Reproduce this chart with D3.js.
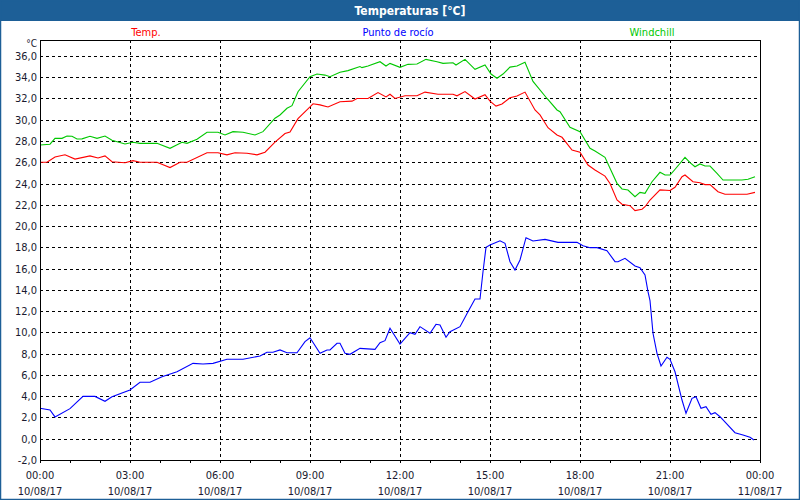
<!DOCTYPE html>
<html><head><meta charset="utf-8">
<script src="https://cdn.jsdelivr.net/npm/d3@7"></script>
<style>
html,body{margin:0;padding:0;background:#fff;}
svg text{font-family:"DejaVu Sans",Tahoma,sans-serif;font-stretch:condensed;}
</style></head>
<body>
<script>
// minutes since 10/08/17 00:00
const tempT = [0,14,30,50,70,100,116,130,144,170,186,200,234,260,280,294,334,356,374,390,414,434,450,470,490,500,516,540,546,560,576,600,624,634,656,676,692,700,710,730,754,770,796,826,834,850,870,890,900,912,924,940,954,970,990,1000,1016,1034,1044,1064,1080,1096,1110,1130,1140,1154,1164,1180,1190,1204,1210,1220,1240,1260,1270,1284,1290,1306,1320,1330,1340,1356,1370,1414,1430];
const tempV = [26.0,26.0,26.5,26.7,26.3,26.6,26.4,26.6,26.05,25.95,26.15,26.0,26.0,25.5,26.0,26.0,26.9,26.9,26.7,26.9,26.85,26.7,26.95,27.9,28.7,28.85,30.1,31.2,31.5,31.4,31.2,31.7,31.75,32.0,32.0,32.55,32.15,32.4,32.0,32.25,32.25,32.6,32.4,32.4,32.25,32.65,31.95,32.35,31.75,31.28,31.48,32.07,32.23,32.6,30.92,30.45,29.25,28.57,28.35,27.15,26.94,25.74,25.27,24.7,24.0,22.45,22.05,21.92,21.45,21.58,21.82,22.45,23.4,23.35,23.65,24.64,24.8,24.17,24.08,23.9,23.9,23.23,23.0,23.0,23.17];

const dewT = [0,20,30,60,86,110,130,144,180,200,220,244,274,306,326,346,374,406,440,454,466,480,494,514,530,540,560,574,580,594,600,610,620,640,670,680,690,700,720,740,750,760,780,792,800,812,820,840,856,870,880,886,892,900,920,930,940,950,960,972,986,1010,1036,1074,1086,1100,1114,1134,1150,1156,1170,1190,1200,1210,1216,1220,1226,1234,1242,1254,1260,1270,1284,1292,1304,1312,1322,1332,1342,1350,1360,1390,1406,1420,1428];
const dewV = [2.86,2.7,2.05,2.83,3.98,3.98,3.52,3.95,4.58,5.31,5.31,5.83,6.3,7.09,7.03,7.09,7.47,7.47,7.78,8.13,8.13,8.35,8.09,8.09,9.13,9.5,8.03,8.35,8.35,8.98,8.98,8.03,7.94,8.5,8.41,9.03,9.22,10.39,8.91,9.97,9.82,10.54,9.92,10.76,10.7,9.54,10.07,10.54,11.95,13.14,13.14,15.71,18.0,18.22,18.62,18.38,16.65,15.87,16.81,18.91,18.6,18.75,18.47,18.47,18.15,17.97,17.97,17.69,16.65,16.65,16.97,16.25,16.09,15.4,13.83,13.0,9.92,8.03,6.84,7.66,7.47,6.3,3.64,2.39,3.8,3.95,2.86,3.01,2.3,2.45,2.07,0.57,0.35,0.13,-0.12];

const windT = [0,20,30,44,54,64,74,84,100,114,130,144,170,186,200,234,260,284,294,314,334,356,370,386,406,430,446,470,480,494,504,516,540,554,570,580,600,616,640,644,656,680,692,700,720,736,754,772,794,806,826,832,850,870,890,902,914,926,940,954,970,986,1014,1034,1040,1060,1080,1100,1110,1130,1140,1154,1164,1176,1190,1200,1210,1224,1240,1250,1260,1266,1290,1300,1310,1320,1330,1340,1354,1366,1404,1416,1430];
const windV = [27.62,27.7,28.25,28.25,28.47,28.45,28.19,28.2,28.44,28.25,28.47,28.07,27.72,27.88,27.78,27.78,27.31,27.88,27.78,28.16,28.82,28.82,28.57,28.88,28.82,28.57,28.88,30.14,30.45,31.08,31.32,32.64,34.05,34.3,34.2,34.05,34.46,34.62,35.0,34.9,35.05,35.46,35.05,35.3,34.93,35.21,35.24,35.68,35.46,35.3,35.36,35.15,35.68,34.74,35.15,34.3,33.9,34.3,34.95,35.05,35.4,33.6,32.0,30.92,30.76,29.29,28.88,27.31,27.06,26.47,25.43,24.02,23.49,23.39,22.76,23.17,23.08,24.17,25.06,24.8,24.8,25.11,26.47,25.96,25.58,25.84,25.65,25.65,24.96,24.33,24.33,24.4,24.64];

const seriesNames = ["Temp.","Punto de rocío","Windchill"];
const seriesColors = ["#ff0000","#0000ff","#00c800"];
const yTicks = d3.range(-2, 36.01, 2);
const xTickHours = [0,3,6,9,12,15,18,21,24];
const xTickTimes = ["00:00","03:00","06:00","09:00","12:00","15:00","18:00","21:00","00:00"];
const xTickDates = ["10/08/17","10/08/17","10/08/17","10/08/17","10/08/17","10/08/17","10/08/17","10/08/17","11/08/17"];
const title = "Temperaturas [°C]";

const W = 800, H = 500;
const L = 40, R = 760, T = 40, B = 460;
const svg = d3.select("body").append("svg").attr("width", W).attr("height", H);

svg.append("rect").attr("x",0).attr("y",0).attr("width",W).attr("height",H).attr("fill","#fff");
// title bar
svg.append("rect").attr("x",0).attr("y",0).attr("width",W).attr("height",21).attr("fill","#1d5f97");
svg.append("text").attr("x",410).attr("y",15).attr("text-anchor","middle")
  .attr("fill","#fff").attr("font-weight","bold").attr("font-size","12px").text(title);
// frame
svg.append("rect").attr("x",0.5).attr("y",0.5).attr("width",W-1).attr("height",H-1)
  .attr("fill","none").attr("stroke","#1d5f97").attr("stroke-width",1.5);

const x = d3.scaleLinear().domain([0, 24*60]).range([L, R]);
const y = d3.scaleLinear().domain([-2, 37.5]).range([B, T]);

// legend
const legX = [146, 398, 652];
seriesNames.forEach((n,i)=>{
  svg.append("text").attr("x",legX[i]).attr("y",36).attr("text-anchor","middle")
    .attr("fill",seriesColors[i]).attr("font-size","11px").text(n);
});

// grid
const g = svg.append("g").attr("shape-rendering","crispEdges");
yTicks.filter(v=>v>-2).forEach(v=>{
  g.append("line").attr("x1",L).attr("x2",R).attr("y1",Math.round(y(v))+0.5).attr("y2",Math.round(y(v))+0.5)
   .attr("stroke","#000").attr("stroke-dasharray","3,3");
});
xTickHours.filter(h=>h>0&&h<24).forEach(h=>{
  g.append("line").attr("y1",T).attr("y2",B).attr("x1",Math.round(x(h*60))+0.5).attr("x2",Math.round(x(h*60))+0.5)
   .attr("stroke","#000").attr("stroke-dasharray","3,3");
});
// minor ticks every hour
d3.range(0,25).forEach(h=>{
  g.append("line").attr("y1",B).attr("y2",B+3).attr("x1",Math.round(x(h*60))+0.5).attr("x2",Math.round(x(h*60))+0.5)
   .attr("stroke","#000");
});

// y labels
yTicks.forEach(v=>{
  svg.append("text").attr("x",37).attr("y",y(v)+4).attr("text-anchor","end")
    .attr("font-size","11px").attr("fill","#1a1a30").text(d3.format(".1f")(v).replace(".",",").replace("−","-"));
});
svg.append("text").attr("x",37).attr("y",47).attr("text-anchor","end")
  .attr("font-size","10px").attr("fill","#1a1a30").text("°C");

// x labels
xTickHours.forEach((h,i)=>{
  svg.append("text").attr("x",x(h*60)).attr("y",479).attr("text-anchor","middle")
    .attr("font-size","11px").attr("fill","#1a1a30").text(xTickTimes[i]);
  svg.append("text").attr("x",x(h*60)).attr("y",495).attr("text-anchor","middle")
    .attr("font-size","11px").attr("fill","#1a1a30").text(xTickDates[i]);
});

// lines
const line = d3.line().x(d=>x(d[0])).y(d=>y(d[1]));
const data = [
  [d3.zip(tempT,tempV), seriesColors[0]],
  [d3.zip(dewT,dewV), seriesColors[1]],
  [d3.zip(windT,windV), seriesColors[2]]
];
data.forEach(([pts,c])=>{
  svg.append("path").attr("d",line(pts)).attr("fill","none").attr("stroke",c).attr("stroke-width",1.1);
});

// plot border
svg.append("rect").attr("x",L+0.5).attr("y",T+0.5).attr("width",R-L).attr("height",B-T)
  .attr("fill","none").attr("stroke","#000").attr("stroke-width",1).attr("shape-rendering","crispEdges");
</script>
</body></html>
